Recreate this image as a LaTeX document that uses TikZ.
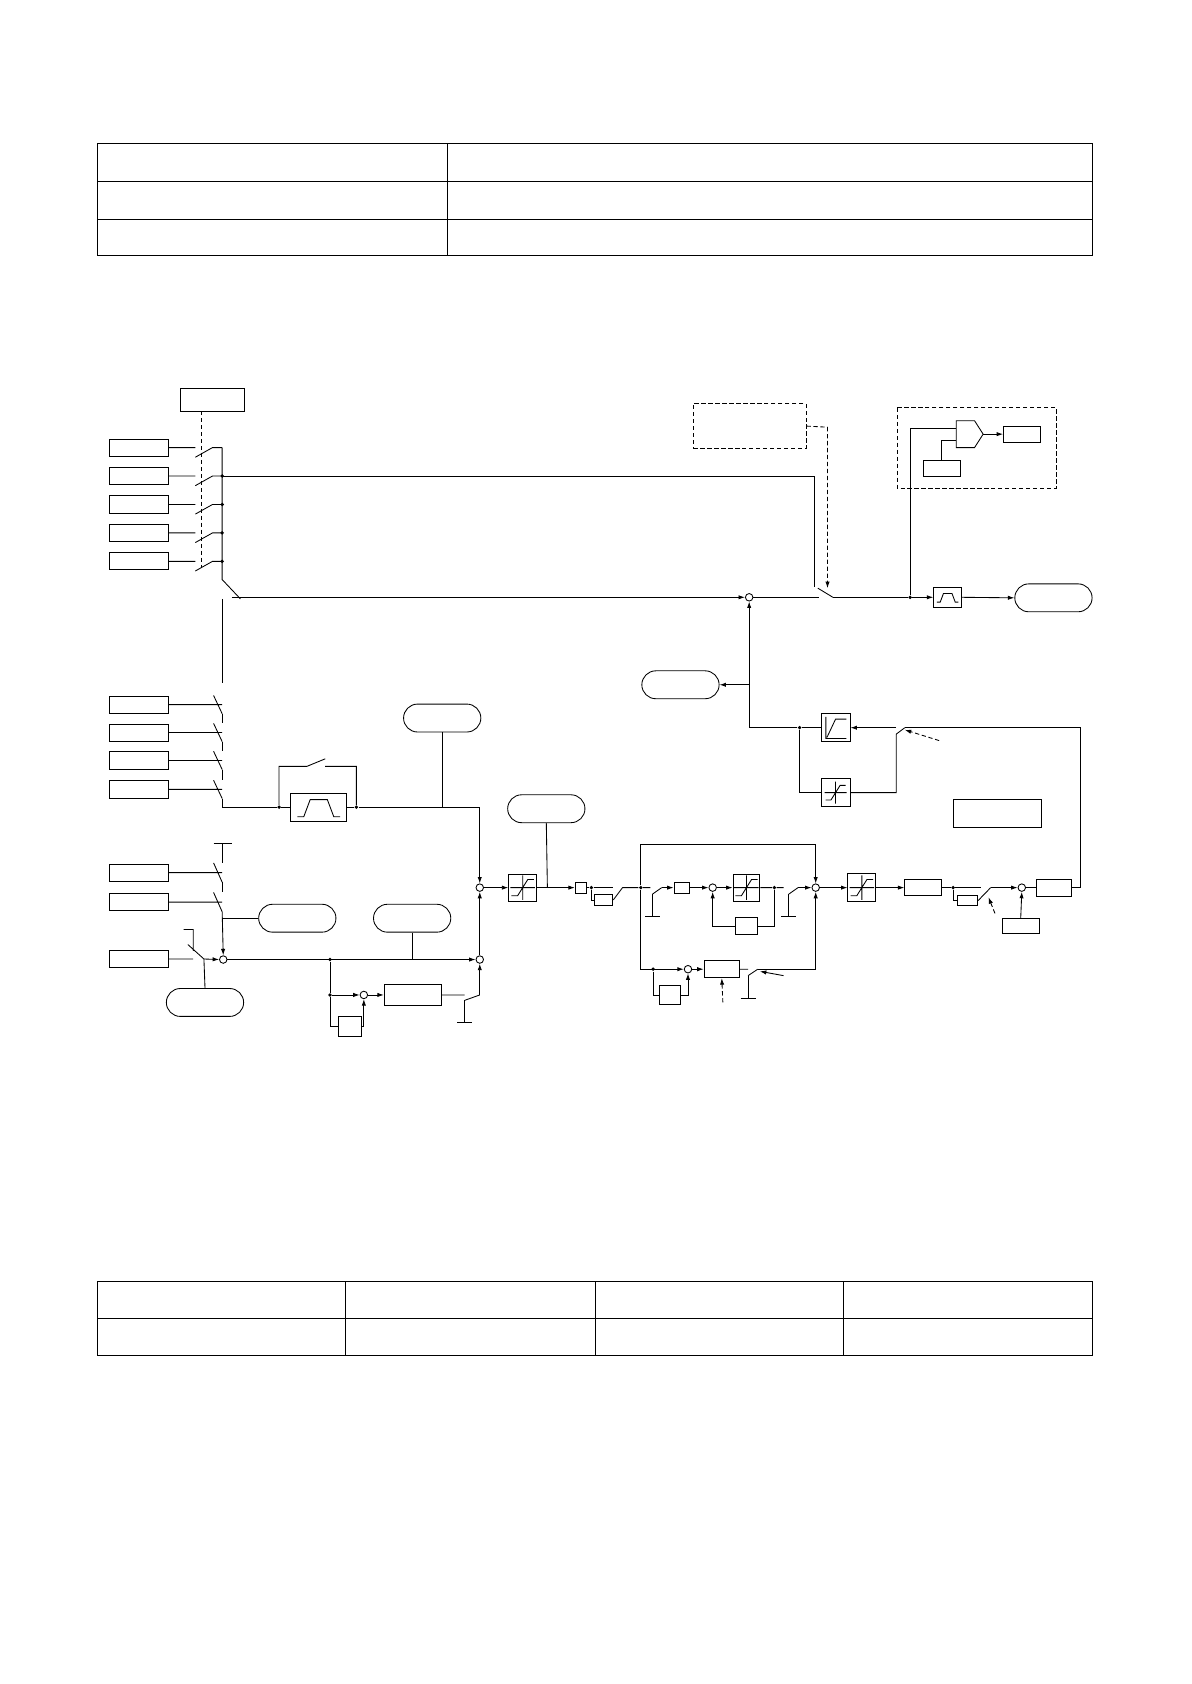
\documentclass[tikz,border=0pt]{standalone}
\usepackage{tikz}
\usetikzlibrary{positioning, calc, shapes.misc}
\usetikzlibrary{arrows.meta}
\tikzstyle{blk}=[rectangle,draw=black,inner sep=0pt]
\tikzstyle{inbox}=[blk, minimum width=55, minimum height=16]
\tikzstyle{oval}=[rounded rectangle,draw=black,inner sep=0pt,minimum width=72,minimum height=26]
\tikzstyle{sumc}=[circle,draw=black,inner sep=0pt,minimum size=7]
\tikzstyle{dotc}=[circle,fill=black,inner sep=0pt,minimum size=3.5]
\tikzstyle{dsh}=[dash pattern=on 4pt off 2.5pt]
\tikzstyle{edgepath}=[-{Latex[length=6pt,width=4pt]}]
\newcommand{\limsym}[2][1]{\draw[shift={(#2.center)},scale=#1] (0,-12)--(0,12) (-12,0)--(12,0) (-11,8)--(-5,8)--(5,-8)--(11,-8);}
\newcommand{\rampsym}[1]{\draw[shift={(#1.center)}] (-9,-10)--(-9,10)--(10,10) (-8,9)--(0,-8)--(10,-8);}
\newcommand{\filtsym}[2][1]{\draw[shift={(#2.center)},scale=#1] (-20,9)--(-14,9)--(-8,-7)--(8,-7)--(14,9)--(20,9);}
\newcommand{\gnd}[2]{\draw (#1,#2-0.1)--(#1,#2+21) (#1-7,#2+21)--(#1+7,#2+21);}
\begin{document}
\begin{tikzpicture}[x=1pt,y=-1pt,line width=0.8pt]
    \useasboundingbox (0,0) rectangle (1109.7,1569);
    \draw (91,134) rectangle (1018,238) (91,169)--(1018,169) (91,204)--(1018,204) (417,134)--(417,238);
    \draw (91,1194) rectangle (1018,1263) (91,1228)--(1018,1228)
          (322,1194)--(322,1263) (555,1194)--(555,1263) (786,1194)--(786,1263);

    \node[blk, minimum width=60, minimum height=21] (sel) at (198,372.5) {};
    \draw[dsh] (188,383)--(188,528);
    \foreach \i/\y in {1/417,2/443.5,3/470,4/496.5,5/523}{
        \node[inbox] (in\i) at (129.5,\y) {};
        \draw (in\i.east)--(182,\y) (182,\y+9)--(198,\y)--(207,\y);
    }
    \foreach \y in {443.5,470,496.5,523} \node[dotc] at (207,\y) {};
    \draw (207,417)--(207,540)--(224,558);
    \draw (207,558)--(207,636);

    \node[sumc] (s0) at (698,556.5) {};
    \draw[edgepath] (216,556.5)--(s0.west);
    \draw (s0.east)--(763,556.5);
    \draw (207,443.5)--(759,443.5)--(759,547);
    \draw (762,548)--(776,556.5);
    \node[blk, dsh, minimum width=105, minimum height=42] (mode) at (698.5,397) {};
    \draw[dsh, edgepath] (mode.east)--(771,398)--(771,548);

    \node[dotc] (d0) at (848,556.5) {};
    \draw (776,556.5)--(d0);
    \node[blk, minimum width=26, minimum height=19] (f0) at (883,556.5) {};
    \filtsym[0.5]{f0}
    \node[oval] (out) at (981.5,557) {};
    \draw[edgepath] (d0)--(f0.west);
    \draw[edgepath] (f0.east)--(out.west);

    \draw[dsh] (836,380) rectangle (984,455);
    \draw (891,392)--(908,392)--(916,404.5)--(908,417)--(891,417)--cycle;
    \coordinate (cmp) at (916,404.5);
    \node[blk, minimum width=35, minimum height=15] (lvl) at (877.5,436.5) {};
    \node[blk, minimum width=34, minimum height=15] (cmpout) at (952,404.5) {};
    \draw (d0)--(848,399)--(891,399);
    \draw (lvl.north)--(877.5,410.5)--(891,410.5);
    \draw[edgepath] (cmp)--(cmpout.west);

    \node[oval] (mon) at (634,638) {};
    \draw[edgepath] (698,638)--(mon.east);
    \node[dotc] (d1) at (745,678) {};
    \node[blk, minimum width=27, minimum height=26] (ramp) at (778.5,678) {};
    \rampsym{ramp}
    \node[blk, minimum width=27, minimum height=26] (lim0) at (778.5,738.5) {};
    \limsym[0.85]{lim0}
    \draw[edgepath] (ramp.west)--(d1)--(698,678)--(s0.south);
    \draw (d1)--(745,738.5)--(lim0.west);
    \draw (lim0.east)--(835,738.5)--(835,684)--(843,678);
    \draw[edgepath] (835,678)--(ramp.east);
    \draw[dsh, edgepath] (875,690)--(843,680);
    \node[blk, minimum width=82, minimum height=26] (note) at (929,758) {};

    \foreach \i/\y in {6/656.5,7/682.5,8/708.5,9/735.5}{
        \node[inbox] (in\i) at (129.5,\y) {};
        \draw (in\i.east)--(207,\y) (199,\y-8.5)--(207,\y+8.5);
    }
    \draw (207,665)--(207,674) (207,691)--(207,700) (207,717)--(207,727) (207,744)--(207,752);
    \node[blk, minimum width=52, minimum height=26] (flt) at (297,752) {};
    \filtsym{flt}
    \node[dotc] (d2) at (260,752) {};
    \node[dotc] (d3) at (332,752) {};
    \draw (207,752)--(d2)--(flt.west) (flt.east)--(d3);
    \draw (d2)--(260,714)--(286,714)--(303,707) (303,714)--(332,714)--(d3);
    \node[oval] (ovA) at (412,669) {};
    \node[sumc] (s1) at (447,827) {};
    \draw (ovA.south)--(412,752);
    \draw[edgepath] (d3)--(447,752)--(s1.north);

    \node[blk, minimum width=26, minimum height=25] (lim1) at (487,827) {};
    \limsym[0.95]{lim1}
    \node[oval] (ovB) at (509,753.5) {};
    \node[blk, minimum width=10, minimum height=10] (sq) at (541,827) {};
    \draw[edgepath] (s1.east)--(lim1.west);
    \draw (ovB.south)--(510,827);
    \draw[edgepath] (lim1.east)--(sq.west);
    \node[dotc] (d4) at (551,827) {};
    \node[blk, minimum width=17, minimum height=11] (sb1) at (562.5,838.5) {};
    \node[dotc] (d5) at (597,827) {};
    \draw (sq.east)--(d4)--(571,827) (d4)--(551,838.5)--(sb1.west);
    \draw (sb1.east)--(580,827)--(d5);

    \node[sumc] (s4) at (760,827) {};
    \draw[edgepath] (d5)--(597,787)--(760,787)--(s4.north);
    \draw (d5)--(606,827) (608,833)--(616.5,827);
    \gnd{608}{833}
    \node[blk, minimum width=14, minimum height=10] (sb2) at (635,827) {};
    \node[sumc] (s5) at (664,827) {};
    \node[blk, minimum width=25, minimum height=25] (lim2) at (695.5,827) {};
    \limsym[0.95]{lim2}
    \node[dotc] (d6) at (721.5,827) {};
    \node[blk, minimum width=21, minimum height=16] (fb) at (695.5,863) {};
    \draw[edgepath] (616.5,827)--(sb2.west);
    \draw[edgepath] (sb2.east)--(s5.west);
    \draw[edgepath] (s5.east)--(lim2.west);
    \draw (lim2.east)--(d6)--(730,827) (735,833)--(743.5,827);
    \gnd{735}{833}
    \draw[edgepath] (743.5,827)--(s4.west);
    \draw (d6)--(721.5,863)--(fb.east);
    \draw[edgepath] (fb.west)--(664,863)--(s5.south);

    \node[sumc] (s7) at (641,903) {};
    \node[dotc] (d7) at (608.5,903) {};
    \node[blk, minimum width=33, minimum height=16] (pi) at (672.5,903) {};
    \node[blk, minimum width=20, minimum height=17] (sb3) at (624,927) {};
    \draw[edgepath] (d5)--(597,903)--(s7.west);
    \draw[edgepath] (s7.east)--(pi.west);
    \draw (d7)--(608.5,927)--(sb3.west);
    \draw[edgepath] (sb3.east)--(641,927)--(s7.south);
    \draw (pi.east)--(697,903) (697,909)--(706,903);
    \gnd{697}{909}
    \draw[edgepath] (706,903)--(760,903)--(s4.south);
    \draw[edgepath] (730,909)--(708,905);
    \draw[dsh, edgepath] (673.5,934)--(pi.south);

    \node[blk, minimum width=26, minimum height=26] (lim3) at (803,827) {};
    \limsym[0.95]{lim3}
    \node[blk, minimum width=34, minimum height=15] (b1) at (860,827) {};
    \node[dotc] (d8) at (888,827) {};
    \node[blk, minimum width=19, minimum height=10] (sb4) at (901.5,839) {};
    \node[sumc] (s6) at (952,827) {};
    \node[blk, minimum width=34, minimum height=14] (ofs) at (951,863) {};
    \node[blk, minimum width=32, minimum height=16] (b2) at (982,827) {};
    \draw[edgepath] (s4.east)--(lim3.west);
    \draw[edgepath] (lim3.east)--(b1.west);
    \draw (b1.east)--(d8)--(914,827) (d8)--(888,839)--(sb4.west);
    \draw (sb4.east)--(923,827);
    \draw[edgepath] (923,827)--(s6.west);
    \draw[dsh, edgepath] (927,851)--(921,836);
    \draw[edgepath] (ofs.north)--(s6.south);
    \draw (s6.east)--(b2.west);
    \draw (b2.east)--(1007,827)--(1007,678)--(843,678);

    \draw (199,786)--(216,786) (207,786)--(207,804);
    \foreach \i/\y in {10/813,11/840.5}{
        \node[inbox] (in\i) at (129.5,\y) {};
        \draw (in\i.east)--(207,\y) (199,\y-9)--(207,\y+9);
    }
    \draw (207,822)--(207,831.5);
    \node[inbox] (in12) at (129.5,893.5) {};
    \node[sumc] (s2) at (208,894) {};
    \node[oval] (ovC) at (277,855.5) {};
    \node[oval] (ovD) at (191,934) {};
    \draw[edgepath] (207,849.5)--(s2.north);
    \draw (207,855.5)--(ovC.west);
    \draw (in12.east)--(180,893.5) (171,866)--(180,866)--(180,886) (175,880)--(190,893.5);
    \draw[edgepath] (190,893.5)--(s2.west);
    \draw (190,893.5)--(ovD.north);

    \node[sumc] (s3) at (447,894) {};
    \node[dotc] (d9) at (307.5,894) {};
    \node[oval] (ovE) at (384,855.5) {};
    \draw[edgepath] (s2.east)--(s3.west);
    \draw (ovE.south)--(384,894);
    \node[dotc] (d10) at (307.5,927) {};
    \node[sumc] (s8) at (339,927) {};
    \node[blk, minimum width=53, minimum height=19] (pi2) at (384.5,927) {};
    \node[blk, minimum width=22, minimum height=19] (sb5) at (326,956.5) {};
    \draw (d9)--(d10);
    \draw[edgepath] (d10)--(s8.west);
    \draw[edgepath] (s8.east)--(pi2.west);
    \draw (d10)--(307.5,956.5)--(sb5.west);
    \draw[edgepath] (sb5.east)--(339,956.5)--(s8.south);
    \draw (pi2.east)--(433,927) (433,932)--(447,927);
    \gnd{433}{932}
    \draw[edgepath] (447,927)--(s3.south);
    \draw[edgepath] (s3.north)--(s1.south);
\end{tikzpicture}
\end{document}
